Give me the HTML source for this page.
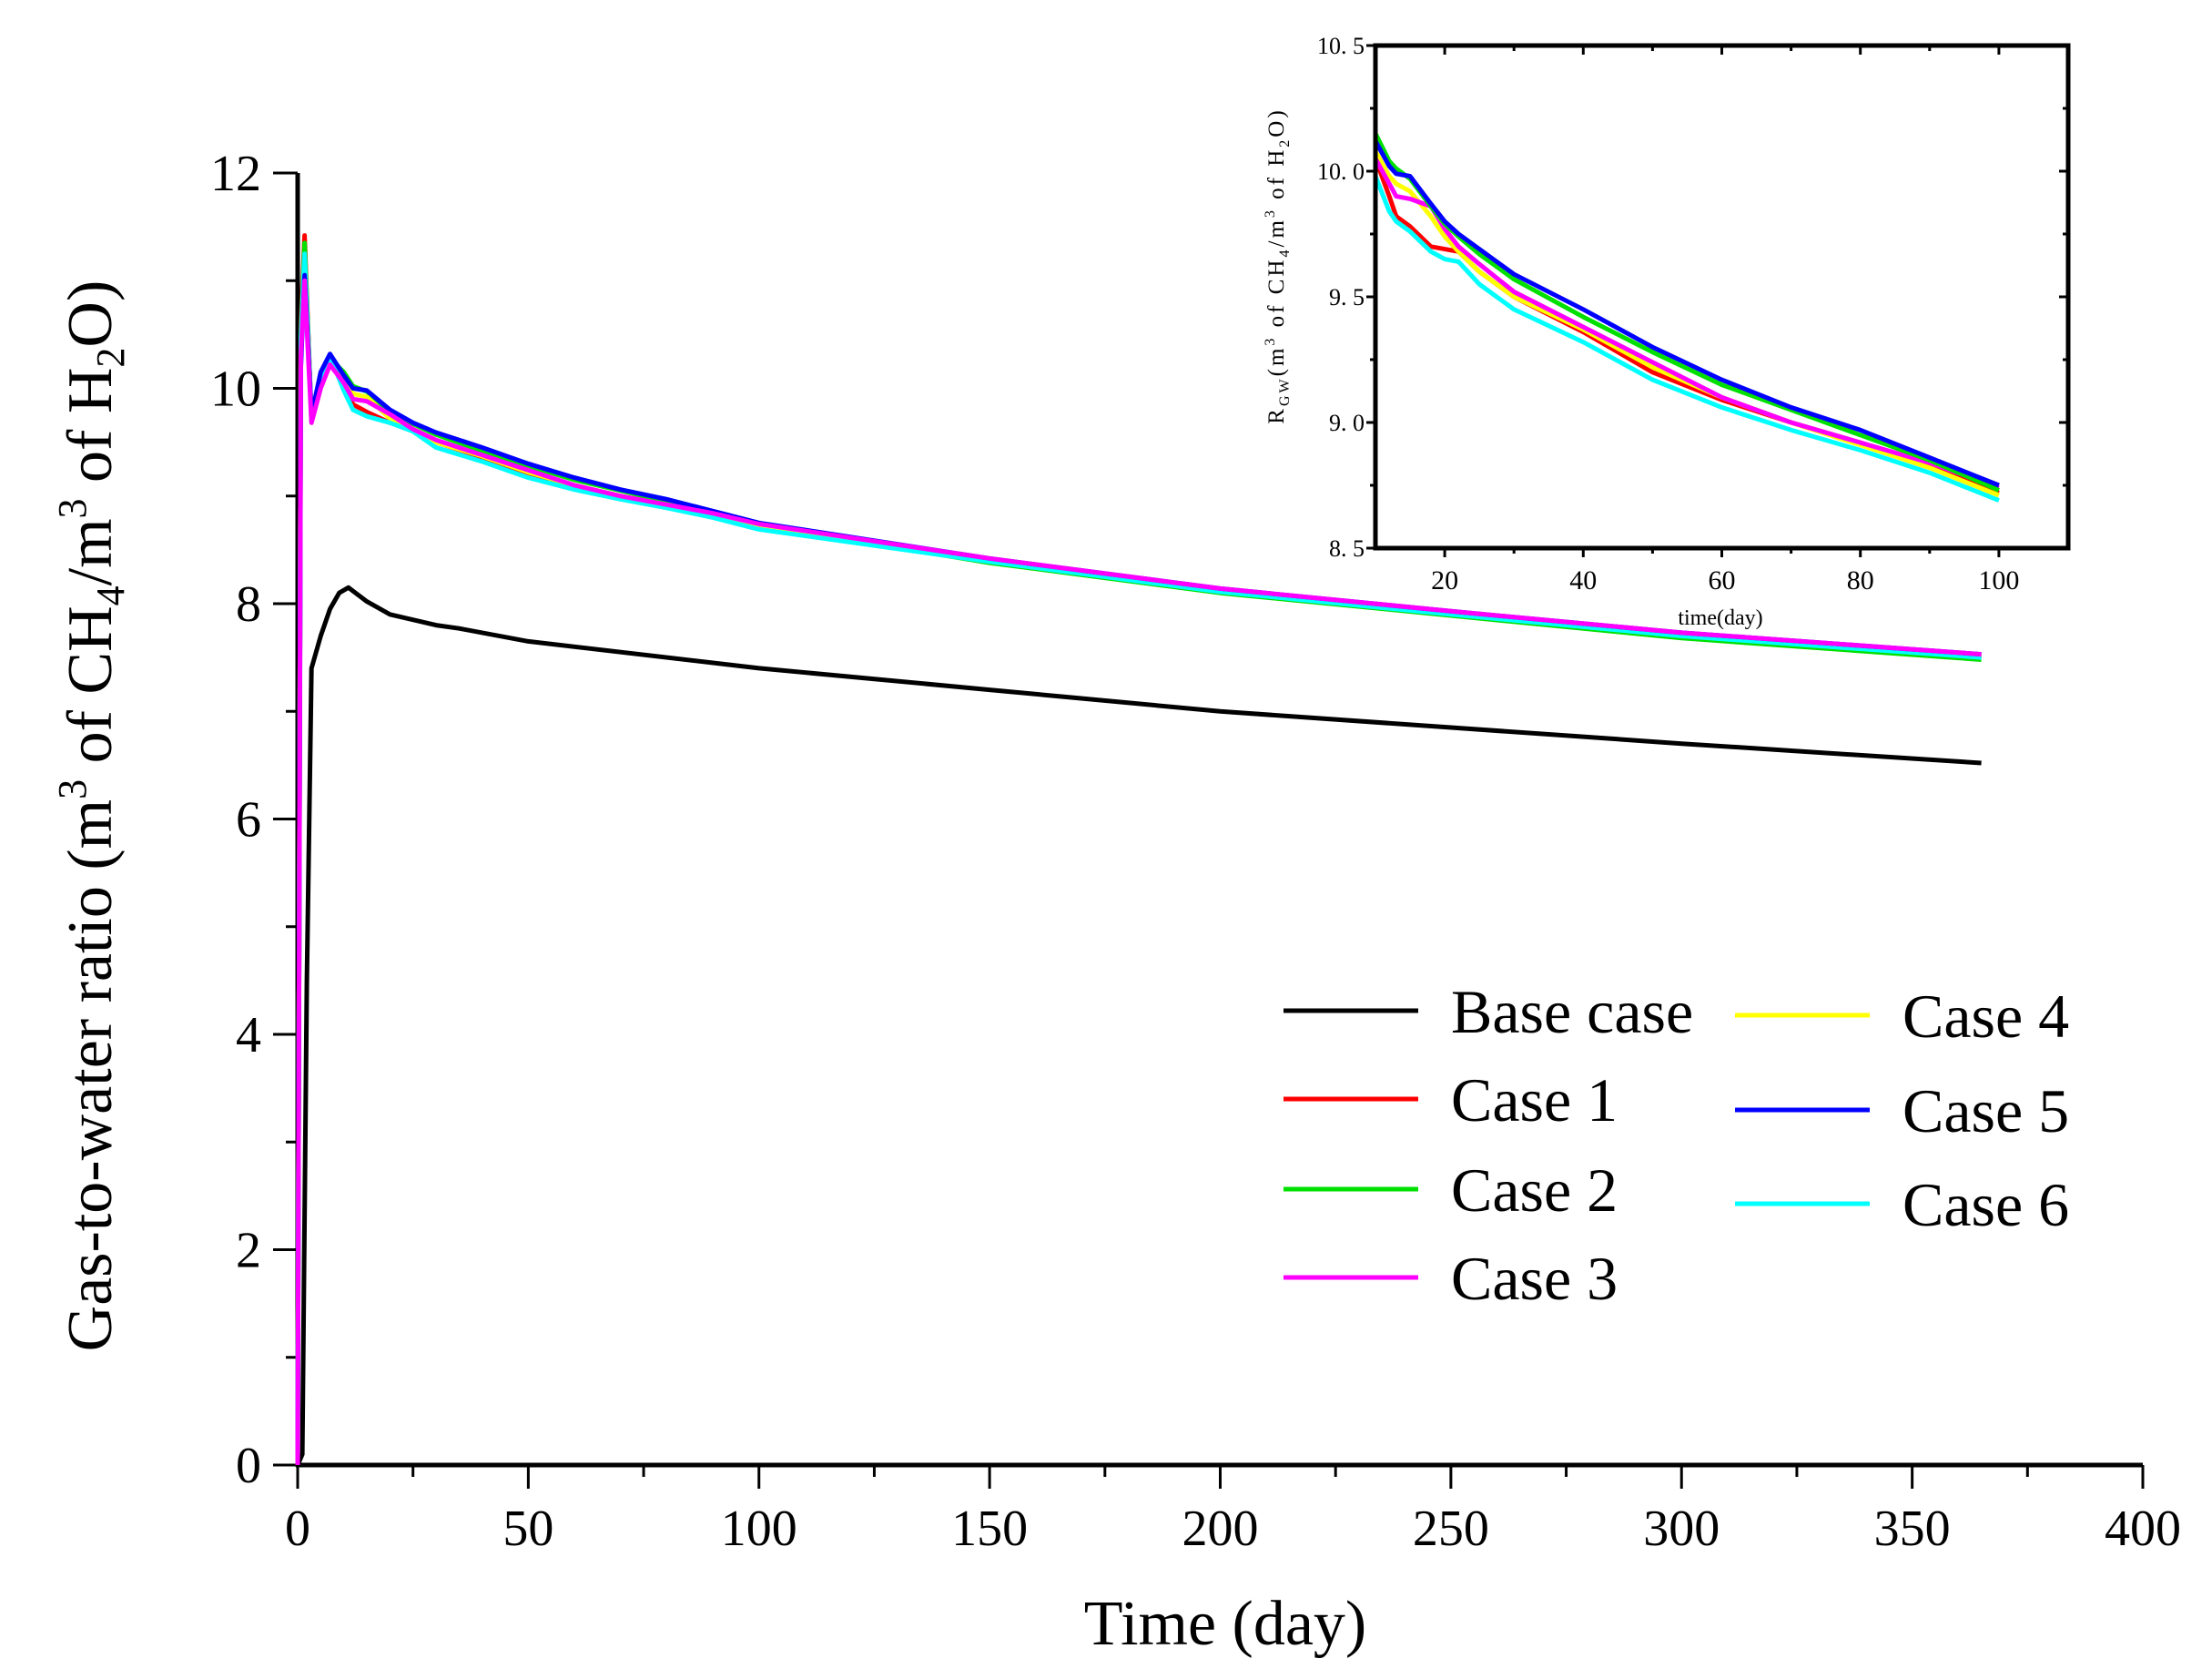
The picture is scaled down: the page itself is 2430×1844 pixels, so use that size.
<!DOCTYPE html>
<html><head><meta charset="utf-8"><style>
html,body{margin:0;padding:0;background:#fff}
svg{display:block}
text{font-family:"Liberation Serif",serif;fill:#000}
</style></head><body>
<svg id="chart" width="2430" height="1844" viewBox="0 0 2430 1844" xmlns="http://www.w3.org/2000/svg">
<g id="main"></g>
<g id="inset"></g>
<g id="legend"></g>
</svg>
<script>
const NS="http://www.w3.org/2000/svg";
const seriesNames=["Base case","Case 1","Case 2","Case 3","Case 4","Case 5","Case 6"];
const seriesColors=["#000000","#ff0000","#00e000","#ff00ff","#ffff00","#0000ff","#00ffff"];
const xTicks=[0,50,100,150,200,250,300,350,400];
const yTicks=[0,2,4,6,8,10,12];
const insetXTicks=[20,40,60,80,100];
const insetYTicks=["8. 5","9. 0","9. 5","10. 0","10. 5"];
const insetYVals=[8.5,9.0,9.5,10.0,10.5];
const tMain=[0,0.7,1.5,3,5,7,10,12,15,20,25,30,40,50,60,70,80,90,100,150,200,250,300,365];
const baseT=[0,1,2,3,5,7,9,11,15,20,25,30,35,50,100,150,200,250,300,365];
const baseV=[0,0.1,4.5,7.4,7.7,7.95,8.1,8.15,8.02,7.9,7.85,7.8,7.77,7.65,7.4,7.2,7.0,6.85,6.7,6.52];
const case1=[0,10.6,11.42,9.7,10.05,10.25,10.05,9.85,9.78,9.68,9.62,9.5,9.36,9.2,9.09,9.0,8.92,8.83,8.72,8.4,8.12,7.91,7.71,7.5];
const case2=[0,10.5,11.35,9.7,10.1,10.28,10.15,10.02,9.97,9.78,9.67,9.57,9.42,9.28,9.15,9.05,8.95,8.85,8.73,8.38,8.1,7.89,7.68,7.48];
const case3=[0,10.3,11.0,9.68,10.0,10.22,10.05,9.9,9.88,9.76,9.62,9.52,9.38,9.24,9.1,9.0,8.92,8.84,8.74,8.42,8.14,7.93,7.73,7.53];
const case4=[0,10.4,11.2,9.7,10.05,10.25,10.08,9.95,9.92,9.72,9.6,9.5,9.37,9.22,9.1,9.0,8.91,8.82,8.71,8.4,8.12,7.91,7.71,7.51];
const case5=[0,10.2,11.05,9.75,10.15,10.32,10.12,10.0,9.98,9.8,9.68,9.59,9.45,9.3,9.17,9.06,8.97,8.86,8.75,8.42,8.14,7.93,7.73,7.53];
const case6=[0,10.45,11.25,9.72,10.1,10.3,9.98,9.8,9.74,9.68,9.6,9.45,9.32,9.17,9.06,8.97,8.89,8.8,8.69,8.39,8.11,7.9,7.7,7.5];
const insetT=[10,12,13,15,18,20,22,25,30,40,50,60,70,80,90,100];
const in1=[10.05,9.9,9.82,9.78,9.7,9.69,9.68,9.6,9.5,9.36,9.2,9.09,9.0,8.92,8.83,8.72];
const in2=[10.15,10.04,10.01,9.97,9.86,9.79,9.74,9.67,9.57,9.42,9.28,9.15,9.05,8.95,8.85,8.73];
const in3=[10.05,9.95,9.9,9.89,9.86,9.77,9.7,9.63,9.52,9.38,9.24,9.1,9.0,8.92,8.84,8.74];
const in4=[10.08,9.98,9.95,9.92,9.82,9.74,9.68,9.6,9.5,9.37,9.22,9.1,9.0,8.91,8.82,8.71];
const in5=[10.12,10.02,9.99,9.98,9.87,9.8,9.75,9.69,9.59,9.45,9.3,9.17,9.06,8.97,8.86,8.75];
const in6=[9.98,9.84,9.8,9.76,9.68,9.65,9.64,9.55,9.45,9.32,9.17,9.06,8.97,8.89,8.8,8.69];

function el(tag,attrs,parent,txt){const e=document.createElementNS(NS,tag);for(const k in attrs)e.setAttribute(k,attrs[k]);if(txt!==undefined)e.textContent=txt;parent.appendChild(e);return e;}

const X0=327,X1=2354,Y0=1609,Y1=190;
const sx=v=>X0+(v-0)/(400)*(X1-X0);
const sy=v=>Y0-(v/12)*(Y0-Y1);
const main=document.getElementById('main');
const axes=el('g',{},main);


for(let v=0;v<=400;v+=25){const major=v%50===0;const t=el('line',{x1:sx(v),x2:sx(v),y1:Y0,y2:Y0+(major?26:13),stroke:'#000','stroke-width':3},axes);}
for(let v=0;v<=12;v+=1){const major=v%2===0;const t=el('line',{x1:X0-(major?27:13),x2:X0,y1:sy(v),y2:sy(v),stroke:'#000','stroke-width':3},axes);}
const xa=el('line',{x1:X0-2,x2:X1,y1:Y0,y2:Y0,stroke:'#000','stroke-width':5},axes);

const ya=el('line',{x1:X0,x2:X0,y1:Y1,y2:Y0+2,stroke:'#000','stroke-width':5},axes);

xTicks.forEach(v=>{const t=el('text',{x:sx(v),y:Y0+88,'font-size':56,'text-anchor':'middle'},axes,String(v));});
yTicks.forEach(v=>{const t=el('text',{x:X0-40,y:sy(v)+19,'font-size':56,'text-anchor':'end'},axes,String(v));});
const xt=el('text',{x:1346,y:1806,'font-size':70,'text-anchor':'middle'},axes,'Time (day)');

const yt=el('text',{x:0,y:0,'font-size':70,'text-anchor':'middle',transform:'translate(122,896) rotate(-90)'},axes);

yt.innerHTML='Gas-to-water ratio (m<tspan font-size="44" dy="-28">3</tspan><tspan dy="28"> of CH</tspan><tspan font-size="44" dy="14">4</tspan><tspan dy="-14">/m</tspan><tspan font-size="44" dy="-28">3</tspan><tspan dy="28"> of H</tspan><tspan font-size="44" dy="14">2</tspan><tspan dy="-14">O)</tspan>';

function path(ts,vs,fx,fy){return ts.map((t,i)=>(i?'L':'M')+fx(t).toFixed(1)+','+fy(vs[i]).toFixed(1)).join(' ');}
const mainSeries=[[baseT,baseV],[tMain,case1],[tMain,case2],[tMain,case4],[tMain,case6],[tMain,case5],[tMain,case3]];
const mainColorIdx=[0,1,2,4,6,5,3];
const lines=el('g',{},main);

mainSeries.forEach((s,i)=>{const c=mainColorIdx[i];const p=el('path',{d:path(s[0],s[1],sx,sy),fill:'none',stroke:seriesColors[c],'stroke-width':5,'stroke-linejoin':'round'},lines);});

const IX0=1511,IX1=2272,IY0=602,IY1=50;
const ix=v=>IX0+(v-10)/100*(IX1-IX0);
const iy=v=>IY0-(v-8.5)/2*(IY0-IY1);
const inset=document.getElementById('inset');
const cp=el('clipPath',{id:'ic'},inset);el('rect',{x:IX0,y:IY1,width:IX1-IX0,height:IY0-IY1},cp);
const il=el('g',{'clip-path':'url(#ic)'},inset);

const insetSeries=[in1,in4,in3,in2,in6,in5];const insetIdx=[1,4,3,2,6,5];
insetSeries.forEach((s,i)=>{const p=el('path',{d:path(insetT,s,ix,iy),fill:'none',stroke:seriesColors[insetIdx[i]],'stroke-width':5,'stroke-linejoin':'round'},il);});
const fr=el('rect',{x:IX0,y:IY1,width:IX1-IX0,height:IY0-IY1,fill:'none',stroke:'#000','stroke-width':5},inset);

for(let v=20;v<=100;v+=10){const L=v%20===0?10:6;el('line',{x1:ix(v),x2:ix(v),y1:IY0,y2:IY0+L,stroke:'#000','stroke-width':3},inset);el('line',{x1:ix(v),x2:ix(v),y1:IY1,y2:IY1+L,stroke:'#000','stroke-width':3},inset);}
for(let v=8.5;v<=10.51;v+=0.25){const L=Math.abs((v*2)%1)<0.01?10:6;el('line',{x1:IX0-L,x2:IX0,y1:iy(v),y2:iy(v),stroke:'#000','stroke-width':3},inset);el('line',{x1:IX1-L,x2:IX1,y1:iy(v),y2:iy(v),stroke:'#000','stroke-width':3},inset);}
insetXTicks.forEach(v=>{const t=el('text',{x:ix(v),y:IY0+45,'font-size':30,'text-anchor':'middle',fill:'#222'},inset,String(v));});
insetYVals.forEach((v,i)=>{const t=el('text',{x:IX0-12,y:iy(v)+9,'font-size':26,'text-anchor':'end',fill:'#222'},inset,insetYTicks[i]);});
const ixt=el('text',{x:1890,y:686,'font-size':24,'text-anchor':'middle',fill:'#444'},inset,'time(day)');

const iyt=el('text',{x:0,y:0,'font-size':25,'text-anchor':'middle',fill:'#444',transform:'translate(1410,292) rotate(-90)','letter-spacing':'3'},inset);

iyt.innerHTML='R<tspan font-size="16" dy="6">GW</tspan><tspan dy="-6">(m</tspan><tspan font-size="16" dy="-10">3</tspan><tspan dy="10"> of CH</tspan><tspan font-size="16" dy="6">4</tspan><tspan dy="-6">/m</tspan><tspan font-size="16" dy="-10">3</tspan><tspan dy="10"> of H</tspan><tspan font-size="16" dy="6">2</tspan><tspan dy="-6">O)</tspan>';

const legend=document.getElementById('legend');
const legPos=[[1410,1110],[1410,1207],[1410,1306],[1410,1403],[1906,1115],[1906,1219],[1906,1322]];
seriesNames.forEach((n,i)=>{const g=el('g',{},legend);
const [x,y]=legPos[i];el('line',{x1:x,x2:x+148,y1:y,y2:y,stroke:seriesColors[i],'stroke-width':5},g);
el('text',{x:x+184,y:y+24,'font-size':68},g,n);});
</script>
</body></html>
